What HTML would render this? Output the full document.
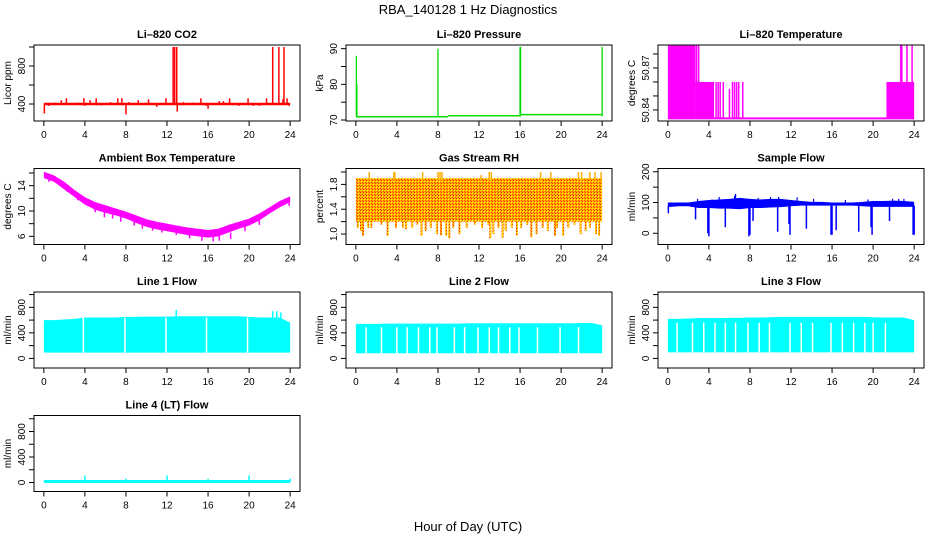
<!DOCTYPE html>
<html><head><meta charset="utf-8">
<style>
html,body{margin:0;padding:0;background:#fff;}
svg{display:block;font-family:"Liberation Sans",sans-serif;}
</style></head>
<body>
<svg id="chart" width="936" height="540" viewBox="0 0 936 540" xmlns="http://www.w3.org/2000/svg">
<defs>
<pattern id="rhpat" width="3" height="3" patternUnits="userSpaceOnUse">
<rect width="3" height="3" fill="#ffb000"/>
<rect x="0" y="0" width="1" height="1" fill="#ff2000"/>
<rect x="1" y="1" width="1" height="1" fill="#ffff00"/>
<rect x="2" y="2" width="1" height="1" fill="#ff4000"/>
</pattern>
</defs>
<text x="468" y="14" text-anchor="middle" font-size="13">RBA_140128  1 Hz Diagnostics</text>
<text x="468" y="531" text-anchor="middle" font-size="13">Hour of Day (UTC)</text>
</svg>
<script>
// ---------- data ----------
const xTicks = [0,4,8,12,16,20,24];
const co2SpikeHours = [0.05,0.5,1.1,1.7,2.2,2.5,3.3,3.9,4.0,4.5,5.1,5.6,6.5,7.2,7.6,8.0,8.3,9.2,10.2,11.0,11.9,12.6,12.75,12.95,13.0,13.6,14.5,15.3,15.8,16.0,17.1,17.5,18.1,19.0,19.9,20.4,21.0,21.7,22.3,22.9,23.3,23.4,23.7,23.9];
const co2SpikeValues = [300,380,415,440,460,390,415,460,380,440,460,385,420,460,460,290,420,440,450,370,460,1000,1000,1000,320,420,415,460,380,350,430,430,460,380,460,380,380,460,1000,1000,450,1000,460,380];
const co2Base = 400;
const pressHours = [0,9,16,24];
const pressBase = [70.9,71.2,71.5,71.5];
const pressSpikeHours = [0.05,0.1,8.0,16.0,16.05,24.0];
const pressSpikeValues = [88,80,90,90.5,90.5,90.5];
const tempLow = 50.834;
const tempBlockStart = [0,2.7,21.3];
const tempBlockEnd = [2.7,4.5,24];
const tempBlockHigh = [50.886,50.860,50.860];
const tempSpikeHours = [2.8,3.0,4.7,4.9,5.1,5.4,6.0,6.3,6.5,6.7,6.9,7.3,22.7,22.8,23.3,23.8];
const tempSpikeValues = [50.886,50.886,50.86,50.86,50.86,50.86,50.855,50.86,50.86,50.86,50.86,50.86,50.886,50.886,50.886,50.886];
const hours = [0,1,2,3,4,5,6,7,8,9,10,11,12,13,14,15,16,17,18,19,20,21,22,23,24];
const ambHi = [16.2,15.6,14.6,13.3,12.2,11.4,10.9,10.4,9.9,9.3,8.7,8.3,8.0,7.7,7.4,7.2,7.0,7.2,7.8,8.3,8.8,9.6,10.6,11.6,12.3];
const ambLo = [15.2,14.6,13.4,12.2,11.0,10.2,9.7,9.3,8.8,8.1,7.5,7.1,6.8,6.5,6.2,6.0,5.8,6.0,6.6,7.2,7.7,8.5,9.6,10.6,11.4];
const ambDipHours = [0.5,1.1,2.3,3.3,5.0,5.9,6.7,7.5,8.8,9.6,10.6,11.5,12.9,14.2,15.4,16.5,17.1,18.2,19.6,21.0,23.9];
const ambDipValues = [14.6,14.5,13.0,11.7,9.8,9.0,8.8,8.3,7.7,7.2,6.9,6.6,6.2,5.7,5.3,5.2,5.3,5.6,6.8,7.8,10.8];
const rhTop = 1.9, rhBase = 1.2;
const rhUpHours = [1.3,3.7,3.8,6.5,8.0,8.2,8.4,12.2,13.0,13.2,18.0,19.0,21.7,22.0,22.8,23.3,23.9];
const rhUpValues = [2.0,2.0,2.0,2.0,2.0,2.0,2.0,1.95,2.0,2.0,2.0,2.0,2.0,2.0,2.0,2.0,2.0];
const rhDipHours = [0.2,0.5,0.7,1.2,1.5,2.5,3.1,3.9,4.6,4.9,5.5,6.0,6.4,6.8,7.3,7.9,8.3,8.8,9.1,9.5,10.1,10.8,11.6,12.3,12.9,13.1,13.4,13.9,14.3,14.6,15.2,15.7,16.1,16.7,17.1,17.6,18.2,18.7,19.4,19.6,20.2,20.7,21.3,21.9,22.4,22.8,23.4,23.7];
const rhDipValues = [1.1,1.05,0.97,1.1,1.1,1.15,0.97,1.1,1.1,1.08,1.1,1.15,0.97,1.05,1.1,1.0,0.98,0.97,0.93,1.1,1.0,1.1,1.15,1.1,1.15,0.93,1.0,1.1,0.94,1.05,1.1,0.98,1.1,1.15,0.95,1.0,1.1,1.05,0.97,1.1,0.97,1.1,1.15,1.0,1.05,1.1,1.0,0.97];
const sfHi = [100,100,100,105,108,110,112,115,112,110,112,112,108,105,102,102,100,100,100,102,105,105,106,105,102];
const sfLo = [85,88,88,82,82,80,80,78,82,82,84,85,88,90,90,90,90,90,90,88,86,86,86,86,86];
const sfDipHours = [0.05,2.7,3.9,4.0,5.6,7.9,8.0,8.3,10.7,11.8,11.9,13.5,15.9,16.0,16.4,18.6,19.8,19.9,21.6,23.9,24.0];
const sfDipValues = [65,45,0,-10,20,-10,-5,40,5,30,-5,15,-5,-5,10,5,20,-5,40,-5,-5];
const sfUpHours = [2.9,4.3,5.0,6.5,6.6,8.8,10.0,10.8,12.6,14.2,17.3,19.5,21.9,22.5,23.0];
const sfUpValues = [112,110,118,122,128,115,118,118,117,112,108,110,112,112,112];
const l1Hi = [600,600,610,620,640,640,640,640,650,650,655,655,655,660,660,660,660,660,660,660,650,640,640,640,560];
const l1Lo = 90;
const l1GapHours = [3.85,7.9,11.9,15.85,19.85];
const l1GapTop = 640;
const l1SpikeHours = [12.9,22.3,22.7,23.1,23.9];
const l1SpikeValues = [760,740,740,720,550];
const l2Hi = [540,540,540,545,545,545,545,545,545,545,545,550,550,550,550,550,550,550,550,550,550,550,555,555,520];
const l2Lo = 80;
const l2GapHours = [1.0,2.5,4.0,5.0,6.1,7.2,7.9,9.6,10.6,11.9,13.0,13.9,15.0,15.9,17.7,19.9,21.7];
const l2GapTop = 490;
const l3Hi = [620,620,625,630,630,630,635,635,640,640,645,650,650,650,650,650,650,650,650,650,645,640,640,640,600];
const l3Lo = 95;
const l3GapHours = [0.9,2.4,3.5,4.6,5.6,6.6,7.8,8.9,9.9,11.9,13.0,14.1,15.9,17.0,18.1,19.2,20.0,21.2];
const l3GapTop = 560;
const l4Base = 15;
const l4SpikeHours = [4,8,12,16,20,24];
const l4SpikeValues = [110,60,110,60,110,60];

// ---------- drawing ----------
const NS = "http://www.w3.org/2000/svg";
const svg = document.getElementById("chart");
function el(tag, attrs, parent){
  const e = document.createElementNS(NS, tag);
  for (const k in attrs) e.setAttribute(k, attrs[k]);
  (parent||svg).appendChild(e);
  return e;
}
const colX = [34,346,658], rowY = [45,168.5,292,415.5], W = 266, H = 76;

function makePanel(col,row,title,ylab,ymin,ymax,yTicks,yLabels,name,fmt){
  const x0 = colX[col], y0 = rowY[row];
  const g = el("g",{});
  
  
  const sx = h => x0 + (h + 0.96) / 25.92 * W;
  const sy = v => y0 + H - (v - ymin) / (ymax - ymin) * H;
  const marks = el("g",{},g);
  
  
  const frame = el("rect",{x:x0,y:y0,width:W,height:H,fill:"none",stroke:"#000","stroke-width":1},g);
  
  
  const t = el("text",{x:x0+W/2,y:y0-7,"text-anchor":"middle","font-size":11,"font-weight":"bold"},g);
  t.textContent = title;
  
  
  xTicks.forEach(h=>{
    el("line",{x1:sx(h),x2:sx(h),y1:y0+H,y2:y0+H+5,stroke:"#000"},g);
    const l = el("text",{x:sx(h),y:y0+H+17,"text-anchor":"middle","font-size":10},g);
    l.textContent = h;
    
    
  });
  yTicks.forEach(v=>{
    el("line",{x1:x0,x2:x0-5,y1:sy(v),y2:sy(v),stroke:"#000"},g);
  });
  yLabels.forEach(v=>{
    const l = el("text",{transform:`translate(${x0-9},${sy(v)}) rotate(-90)`,"text-anchor":"middle","font-size":10},g);
    l.textContent = fmt ? v.toFixed(fmt) : v;
    
    
  });
  const yl = el("text",{transform:`translate(${x0-23},${y0+H/2}) rotate(-90)`,"text-anchor":"middle","font-size":10},g);
  yl.textContent = ylab;
  
  
  return {sx,sy,g:marks};
}
function vline(p,h,a,b,color,w){
  const l = el("line",{x1:p.sx(h),x2:p.sx(h),y1:p.sy(a),y2:p.sy(b),stroke:color,"stroke-width":w||1.3},p.g);
  
  
}
function hline(p,h1,h2,v,color,w){
  const l = el("line",{x1:p.sx(h1),x2:p.sx(h2),y1:p.sy(v),y2:p.sy(v),stroke:color,"stroke-width":w||2},p.g);
  
  
}
function area(p,xs,lo,hi,fill){
  const top = xs.map((h,i)=>p.sx(h)+","+p.sy(hi[i]));
  const bot = xs.map((h,i)=>p.sx(h)+","+p.sy(Array.isArray(lo)?lo[i]:lo)).reverse();
  const poly = el("polygon",{points:top.concat(bot).join(" "),fill:fill},p.g);
  
  
}

// Panel 1: CO2
let p = makePanel(0,0,"Li\u2013820 CO2","Licor ppm",221,1021,[400,600,800,1000],[400,800],"co2");
hline(p,0,24,co2Base,"#ff0000",2.5);
co2SpikeHours.forEach((h,i)=>vline(p,h,co2Base,co2SpikeValues[i],"#ff0000",1.5));

// Panel 2: Pressure
p = makePanel(1,0,"Li\u2013820 Pressure","kPa",69.72,91.03,[70,75,80,85,90],[70,80,90],"pressure");
for(let i=0;i<pressHours.length-1;i++) hline(p,pressHours[i],pressHours[i+1],pressBase[i],"#00dd00",1.5);
pressSpikeHours.forEach((h,i)=>vline(p,h,71,pressSpikeValues[i],"#00dd00",1.3));

// Panel 3: Temperature
p = makePanel(2,0,"Li\u2013820 Temperature","degrees C",50.8321,50.8864,[50.84,50.85,50.86,50.87,50.88],[50.84,50.87],"li820-temperature",2);
hline(p,0,24,tempLow,"#ff00ff",2);
tempBlockStart.forEach((h,i)=>{
  const r = el("rect",{x:p.sx(h),y:p.sy(tempBlockHigh[i]),width:p.sx(tempBlockEnd[i])-p.sx(h),height:p.sy(tempLow)-p.sy(tempBlockHigh[i]),fill:"#ff00ff"},p.g);
  
  
});
tempSpikeHours.forEach((h,i)=>vline(p,h,tempLow,tempSpikeValues[i],"#ff00ff",1.5));

// Panel 4: Ambient
p = makePanel(0,1,"Ambient Box Temperature","degrees C",4.71,16.71,[6,8,10,12,14,16],[6,10,14],"ambient-temperature");
area(p,hours,ambLo,ambHi,"#ff00ff");
ambDipHours.forEach((h,i)=>vline(p,h,ambDipValues[i]+1,ambDipValues[i],"#ff00ff",1.5));

// Panel 5: RH
p = makePanel(1,1,"Gas Stream RH","percent",0.832,2.056,[1.0,1.2,1.4,1.6,1.8,2.0],[1.0,1.4,1.8],"gas-stream-rh",1);
area(p,[0,24],rhBase,[rhTop,rhTop],"url(#rhpat)");
rhDipHours.forEach((h,i)=>vline(p,h,rhBase+0.05,rhDipValues[i],"url(#rhpat)",2));
rhUpHours.forEach((h,i)=>vline(p,h,rhTop-0.05,rhUpValues[i],"#ffb000",1.5));

// Panel 6: Sample flow
p = makePanel(2,1,"Sample Flow","ml/min",-36.5,210.6,[0,50,100,150,200],[0,100,200],"sample-flow");
area(p,hours,sfLo,sfHi,"#0000ff");
sfDipHours.forEach((h,i)=>vline(p,h,90,sfDipValues[i],"#0000ff",1.5));
sfUpHours.forEach((h,i)=>vline(p,h,95,sfUpValues[i],"#0000ff",1.2));

// Panels 7-9: Line flows
const flowTicks = [0,200,400,600,800,1000];
p = makePanel(0,2,"Line 1 Flow","ml/min",-150,1040,flowTicks,[0,400,800],"line1-flow");
area(p,hours,l1Lo,l1Hi,"#00ffff");
l1GapHours.forEach(h=>vline(p,h,l1Lo,l1GapTop,"#ffffff",1.5));
l1SpikeHours.forEach((h,i)=>vline(p,h,500,l1SpikeValues[i],"#00ffff",1.5));

p = makePanel(1,2,"Line 2 Flow","ml/min",-150,1040,flowTicks,[0,400,800],"line2-flow");
area(p,hours,l2Lo,l2Hi,"#00ffff");
l2GapHours.forEach(h=>vline(p,h,l2Lo,l2GapTop,"#ffffff",1.5));

p = makePanel(2,2,"Line 3 Flow","ml/min",-150,1040,flowTicks,[0,400,800],"line3-flow");
area(p,hours,l3Lo,l3Hi,"#00ffff");
l3GapHours.forEach(h=>vline(p,h,l3Lo,l3GapTop,"#ffffff",1.5));

// Panel 10: Line 4
p = makePanel(0,3,"Line 4 (LT) Flow","ml/min",-141,1051,flowTicks,[0,400,800],"line4-flow");
hline(p,0,24,l4Base,"#00ffff",3);
l4SpikeHours.forEach((h,i)=>vline(p,h,l4Base,l4SpikeValues[i],"#00ffff",1.5));
</script>
</body></html>
